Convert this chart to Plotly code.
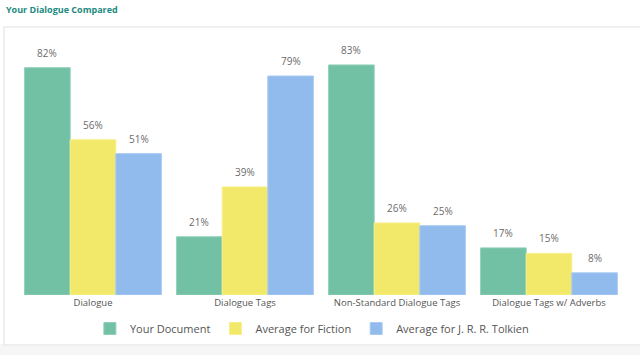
import plotly.graph_objects as go

categories = ["Dialogue", "Dialogue Tags", "Non-Standard Dialogue Tags", "Dialogue Tags w/ Adverbs"]
your_document = [82, 21, 83, 17]
avg_fiction = [56, 39, 26, 15]
avg_tolkien = [51, 79, 25, 8]

series = [
    ("Your Document", your_document, "#72c1a4", "#8fd0b8"),
    ("Average for Fiction", avg_fiction, "#f2e96b", "#f7ef8c"),
    ("Average for J. R. R. Tolkien", avg_tolkien, "#90bbec", "#a9cbf2"),
]

W, H = 640, 355
ml, mr, mt, mb = 17, 15, 40, 60
pw, ph = W - ml - mr, H - mt - mb

def px(x):
    return (x - ml) / pw

def py(y):
    return (H - mb - y) / ph

fig = go.Figure()
annotations = []
bar_px = pw / len(categories) * 0.9 / len(series)
for i, (name, vals, color, edge) in enumerate(series):
    fig.add_trace(go.Bar(
        name=name, x=categories, y=vals,
        marker=dict(color=color, line=dict(color=edge, width=1)),
    ))
    for c, v in zip(categories, vals):
        annotations.append(dict(
            x=c, y=v, xref="x", yref="y", text=f"{v}%", showarrow=False,
            xshift=(i - 1) * bar_px, yshift=15, yanchor="middle",
            font=dict(color="#6b6b6b", size=10, family="Open Sans"),
        ))

annotations.append(dict(text="<b>Your Dialogue Compared</b>", xref="paper", yref="paper",
                        x=px(4), y=py(10), xanchor="left", yanchor="middle", showarrow=False,
                        font=dict(size=9, color="#1b8a80", family="Open Sans")))

fig.update_layout(
    width=W, height=H,
    margin=dict(l=ml, r=mr, t=mt, b=mb, autoexpand=False),
    paper_bgcolor="white", plot_bgcolor="white",
    barmode="group", bargap=0.1, bargroupgap=0,
    font=dict(family="Open Sans", color="#555555"),
    showlegend=True,
    legend=dict(orientation="h", x=0.485, xanchor="center", y=py(314), yanchor="top",
                bgcolor="rgba(0,0,0,0)",
                font=dict(size=11, color="#555555"), itemwidth=30, traceorder="normal"),
    xaxis=dict(showgrid=False, showline=False, zeroline=False, ticks="", automargin=False,
               tickfont=dict(size=9.5, color="#555555")),
    yaxis=dict(range=[0, 92], visible=False, showgrid=False, automargin=False),
    annotations=annotations,
    shapes=[
        dict(type="rect", xref="paper", yref="paper", x0=px(-2), x1=px(W + 2), y0=py(H + 2), y1=py(344),
             fillcolor="#f6f6f6", line=dict(width=0), layer="below"),
        dict(type="rect", xref="paper", yref="paper", x0=px(4), x1=px(W + 5), y0=py(345), y1=py(27),
             fillcolor="rgba(0,0,0,0)", line=dict(color="#ececec", width=1.5), layer="below"),
    ],
)

fig.write_html("out.html", config={"displayModeBar": False},
               post_script="document.body.style.margin='0';")
